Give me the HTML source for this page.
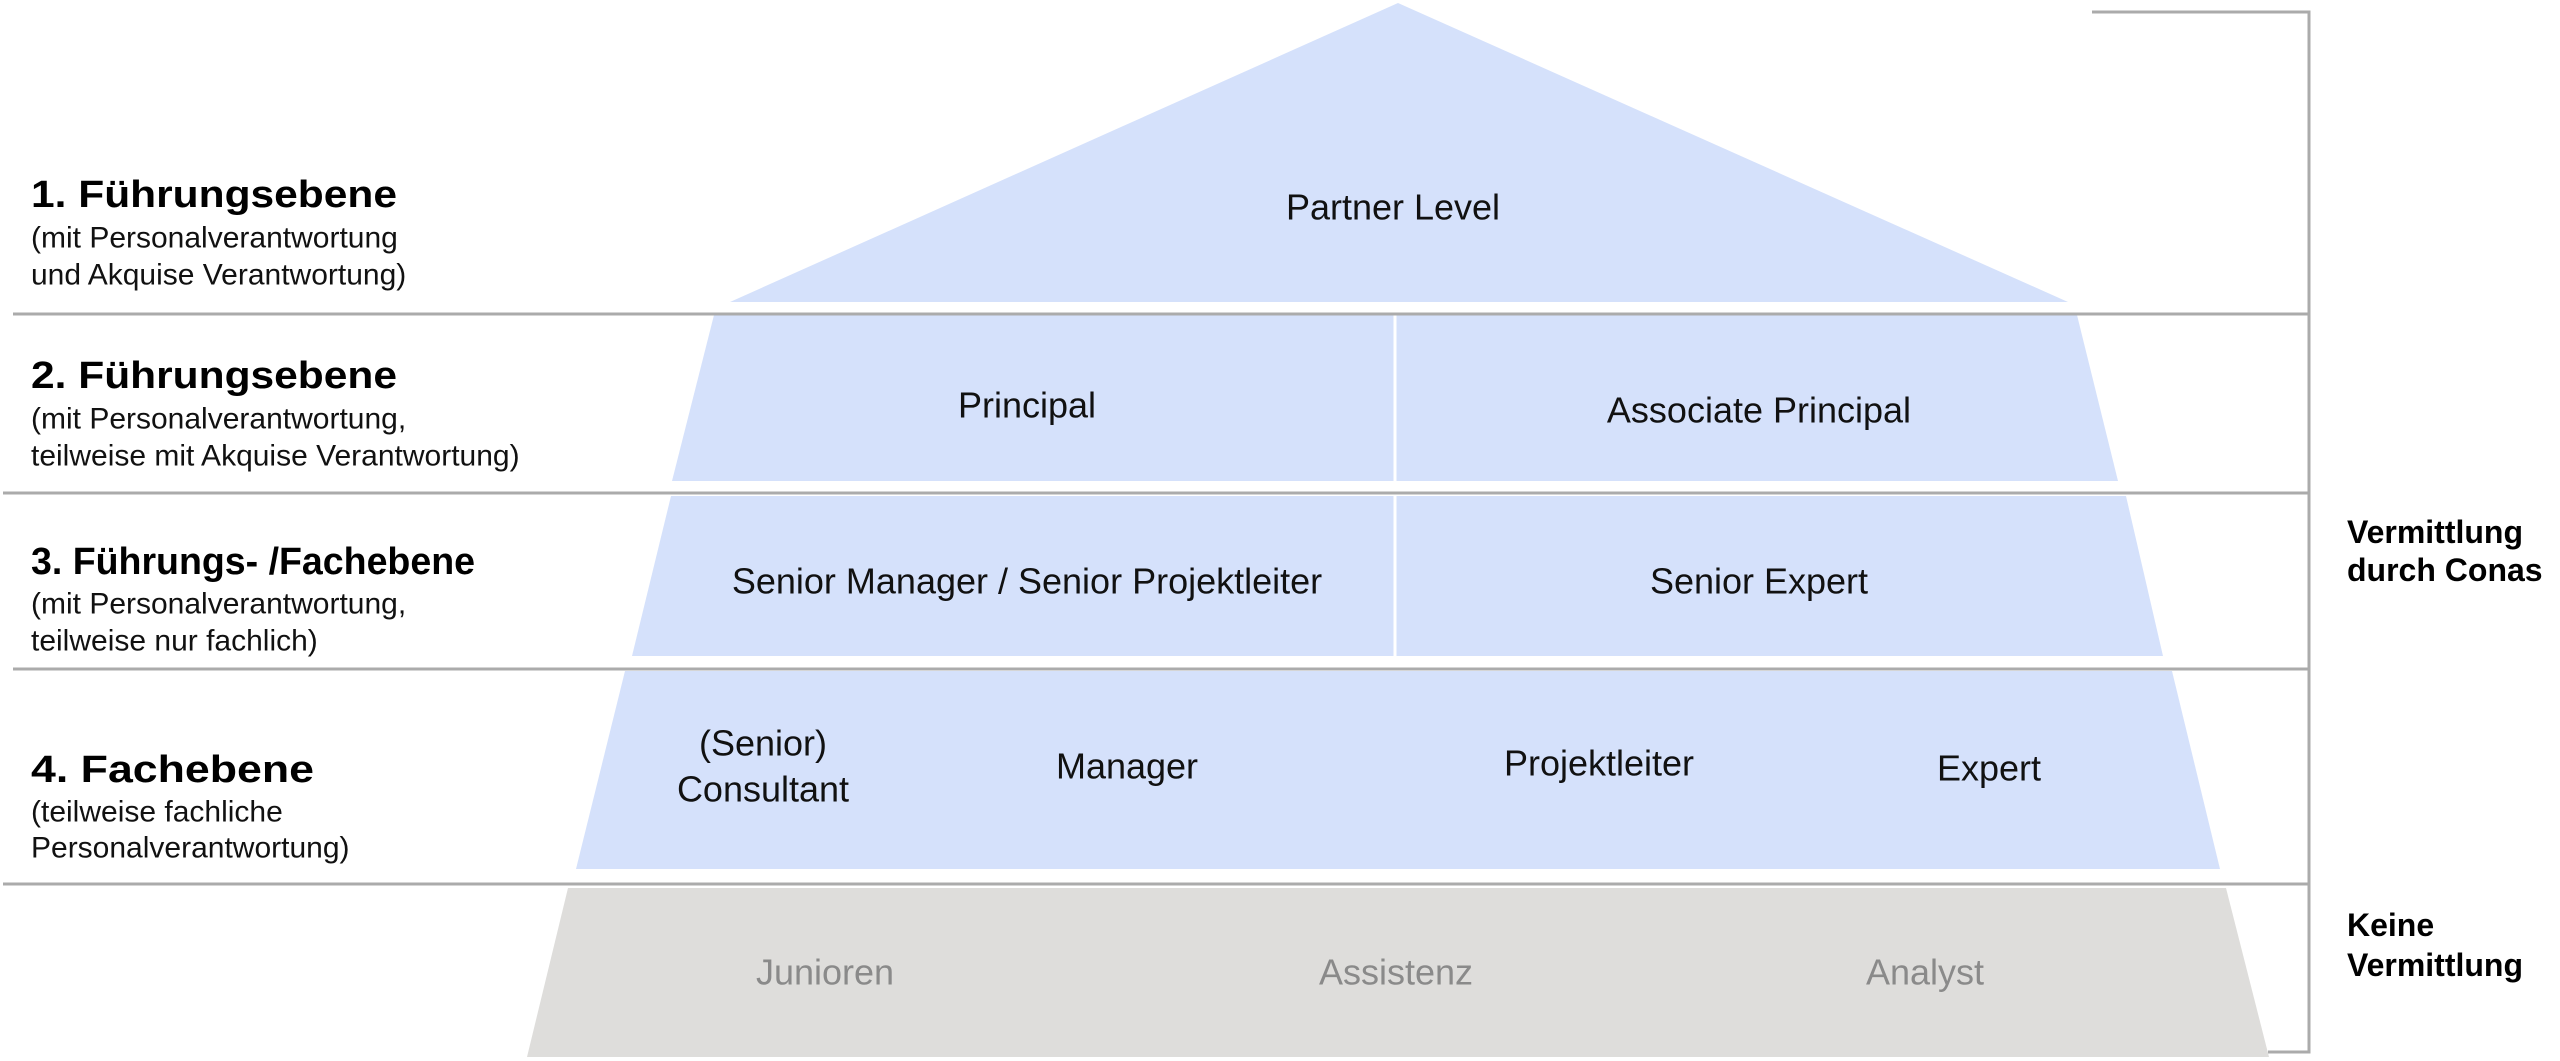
<!DOCTYPE html>
<html><head><meta charset="utf-8"><style>
html,body{margin:0;padding:0;background:#fff}
svg{display:block}
text{font-family:"Liberation Sans",Arial,sans-serif}
</style></head><body>
<svg width="2560" height="1061" viewBox="0 0 2560 1061" xmlns="http://www.w3.org/2000/svg">
<g fill="#d5e1fb">
<polygon points="1398,3 2068,302 730,302"/>
<polygon points="714,315 2077,315 2118,481 672,481"/>
<polygon points="671,496 2126,496 2163,656 632,656"/>
<polygon points="625,671 2172,671 2220,869 576,869"/>
</g>
<polygon points="568,888 2226,888 2269,1057 527,1057" fill="#dedddb"/>
<g stroke="#fff" stroke-width="3">
<line x1="1395" y1="315" x2="1395" y2="481"/>
<line x1="1395" y1="496" x2="1395" y2="656"/>
</g>
<g stroke="#ababab" stroke-width="3" fill="none">
<line x1="13" y1="314" x2="2310" y2="314"/>
<line x1="3" y1="493" x2="2310" y2="493"/>
<line x1="13" y1="669" x2="2310" y2="669"/>
<line x1="3" y1="884" x2="2310" y2="884"/>
<polyline points="2092,12 2309,12 2309,1052 2268,1052"/>
</g>
<g font-size="38" font-weight="bold" fill="#000" dominant-baseline="central" lengthAdjust="spacingAndGlyphs">
<text x="31" y="195" textLength="366" lengthAdjust="spacingAndGlyphs">1. Führungsebene</text>
<text x="31" y="376" textLength="366" lengthAdjust="spacingAndGlyphs">2. Führungsebene</text>
<text x="31" y="562" textLength="444" lengthAdjust="spacingAndGlyphs">3. Führungs- /Fachebene</text>
<text x="31" y="770" textLength="283" lengthAdjust="spacingAndGlyphs">4. Fachebene</text>
</g>
<g font-size="30" fill="#111" dominant-baseline="central">
<text x="31" y="238">(mit Personalverantwortung</text>
<text x="31" y="275">und Akquise Verantwortung)</text>
<text x="31" y="419">(mit Personalverantwortung,</text>
<text x="31" y="456">teilweise mit Akquise Verantwortung)</text>
<text x="31" y="604">(mit Personalverantwortung,</text>
<text x="31" y="641">teilweise nur fachlich)</text>
<text x="31" y="812">(teilweise fachliche</text>
<text x="31" y="848">Personalverantwortung)</text>
</g>
<g font-size="36" fill="#111" text-anchor="middle" dominant-baseline="central">
<text x="1393" y="207">Partner Level</text>
<text x="1027" y="405">Principal</text>
<text x="1759" y="410">Associate Principal</text>
<text x="1027" y="581">Senior Manager / Senior Projektleiter</text>
<text x="1759" y="581">Senior Expert</text>
<text x="763" y="743">(Senior)</text>
<text x="763" y="789">Consultant</text>
<text x="1127" y="766">Manager</text>
<text x="1599" y="763">Projektleiter</text>
<text x="1989" y="768">Expert</text>
</g>
<g font-size="36" fill="#8a8a8a" text-anchor="middle" dominant-baseline="central">
<text x="825" y="972">Junioren</text>
<text x="1396" y="972">Assistenz</text>
<text x="1925" y="972">Analyst</text>
</g>
<g font-size="32" font-weight="bold" fill="#000" dominant-baseline="central">
<text x="2347" y="532">Vermittlung</text>
<text x="2347" y="570">durch Conas</text>
<text x="2347" y="925">Keine</text>
<text x="2347" y="965">Vermittlung</text>
</g>
</svg>
</body></html>
